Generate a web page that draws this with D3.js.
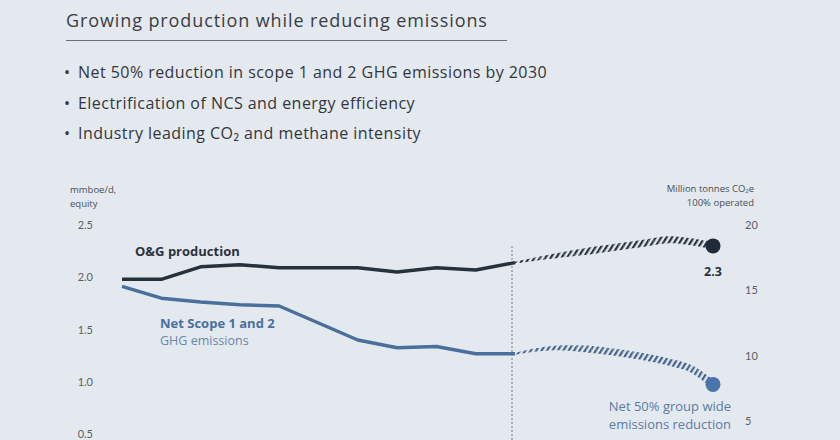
<!DOCTYPE html>
<html>
<head>
<meta charset="utf-8">
<script src="https://cdn.jsdelivr.net/npm/d3@7"></script>
<style>
  body { margin: 0; background: #e3e9ef; }
  svg { display: block; font-family: "Open Sans", Lato, sans-serif; }
</style>
</head>
<body>
<div id="chart"></div>
<script>
// data
var histYears = [2011, 2012, 2013, 2014, 2015, 2016, 2017, 2018, 2019, 2020, 2021];
var production = [1.98, 1.98, 2.1, 2.12, 2.09, 2.09, 2.09, 2.05, 2.09, 2.07, 2.14]; // mmboe/d
var emissions = [15.3, 14.4, 14.1, 13.9, 13.8, 12.5, 11.2, 10.6, 10.7, 10.15, 10.15]; // Mt CO2e

var fcYears = [2021, 2023, 2025, 2027, 2028, 2029, 2030];
var productionFc = [2.14, 2.21, 2.27, 2.33, 2.36, 2.34, 2.3];
var emissionsFcYears = [2021, 2022, 2023, 2026, 2028, 2029, 2030];
var emissionsFc = [10.15, 10.45, 10.6, 10.15, 9.5, 9.0, 7.8];

var leftTicks = [0.5, 1.0, 1.5, 2.0, 2.5];
var rightTicks = [5, 10, 15, 20];

var bullets = [
  "Net 50% reduction in scope 1 and 2 GHG emissions by 2030",
  "Electrification of NCS and energy efficiency",
  "Industry leading CO\u2082 and methane intensity",
];

var width = 840,
  height = 440;

var svg = d3
  .select("#chart")
  .append("svg")
  .attr("width", width)
  .attr("height", height);

svg.append("rect").attr("width", width).attr("height", height).attr("fill", "#e3e9ef");

// hatch patterns for the forecast part
var defs = svg.append("defs");
function hatch(id, color) {
  var p = defs
    .append("pattern")
    .attr("id", id)
    .attr("patternUnits", "userSpaceOnUse")
    .attr("width", 4.6)
    .attr("height", 10)
    .attr("patternTransform", "rotate(32)");
  p.append("rect").attr("width", 2.2).attr("height", 10).attr("fill", color);
}
hatch("hatchDark", "#27313c");
hatch("hatchBlue", "#40608a");

// title + bullets
svg
  .append("text")
  .attr("x", 66)
  .attr("y", 27)
  .attr("font-size", 18)
  .attr("letter-spacing", 0.9)
  .attr("fill", "#3a3d42")
  .text("Growing production while reducing emissions");
svg
  .append("line")
  .attr("x1", 66)
  .attr("x2", 507)
  .attr("y1", 40.5)
  .attr("y2", 40.5)
  .attr("stroke", "#6b6f75")
  .attr("stroke-width", 1);

var bl = svg
  .selectAll(".bullet")
  .data(bullets)
  .enter()
  .append("g")
  .attr("class", "bullet")
  .attr("transform", (d, i) => "translate(0," + (78 + i * 30.5) + ")")
  .attr("font-size", 16)
  .attr("fill", "#33363b");
bl.append("text").attr("x", 64).text("\u2022");
bl.append("text")
  .attr("x", 78)
  .attr("letter-spacing", 0.45)
  .text((d) => d);

// scales
var x = d3.scaleLinear().domain([2011, 2021, 2030]).range([122, 515, 713]);
var yL = d3.scaleLinear().domain([0.5, 2.5]).range([434, 225]);
var yR = d3.scaleLinear().domain([5, 20]).range([421, 225]);

// axes
var axL = svg
  .append("g")
  .attr("transform", "translate(93,0)")
  .call(d3.axisLeft(yL).tickValues(leftTicks).tickFormat(d3.format(".1f")).tickSize(0).tickPadding(0));
var axR = svg
  .append("g")
  .attr("transform", "translate(745,0)")
  .call(d3.axisRight(yR).tickValues(rightTicks).tickSize(0).tickPadding(0));
[axL, axR].forEach(function (a) {
  a.select(".domain").remove();
  a.selectAll("text")
    .attr("font-family", "Lato, sans-serif")
    .attr("font-size", 11)
    .attr("fill", "#5a5f66");
});

// axis titles
var axTitle = svg.append("g").attr("font-size", 9.5).attr("fill", "#4a4e54");
axTitle.append("text").attr("x", 70).attr("y", 193).text("mmboe/d,");
axTitle.append("text").attr("x", 70).attr("y", 207).text("equity");
axTitle
  .append("text")
  .attr("x", 754)
  .attr("y", 192)
  .attr("text-anchor", "end")
  .text("Million tonnes CO\u2082e");
axTitle
  .append("text")
  .attr("x", 754)
  .attr("y", 206)
  .attr("text-anchor", "end")
  .text("100% operated");

// divider between history and forecast
svg
  .append("line")
  .attr("x1", x(2021) - 3)
  .attr("x2", x(2021) - 3)
  .attr("y1", 246)
  .attr("y2", height)
  .attr("stroke", "#9aa0a8")
  .attr("stroke-width", 1.5)
  .attr("stroke-dasharray", "2,2");

// historical lines
var histLine = function (yScale, vals) {
  return d3
    .line()
    .x((d, i) => x(histYears[i]))
    .y((d) => yScale(d))(vals);
};
svg
  .append("path")
  .attr("d", histLine(yR, emissions))
  .attr("fill", "none")
  .attr("stroke", "#4a6f9c")
  .attr("stroke-width", 3.5)
  .attr("stroke-linejoin", "round");
svg
  .append("path")
  .attr("d", histLine(yL, production))
  .attr("fill", "none")
  .attr("stroke", "#27313c")
  .attr("stroke-width", 3.5)
  .attr("stroke-linejoin", "round");

// forecast: hatched stroke that gets thicker along the way
function forecast(years, vals, yScale, pat) {
  var d = d3
    .line()
    .curve(d3.curveMonotoneX)
    .x((v, i) => x(years[i]))
    .y((v) => yScale(v))(vals);
  var tmp = svg.append("path").attr("d", d).attr("fill", "none");
  var len = tmp.node().getTotalLength();
  var n = 40;
  var g = svg.append("g");
  for (var k = 0; k < n; k++) {
    var a = tmp.node().getPointAtLength((len * k) / n);
    var b = tmp.node().getPointAtLength((len * (k + 1)) / n);
    var w = Math.min(7, 2 + (k / n) * 14);
    g.append("line")
      .attr("x1", a.x)
      .attr("y1", a.y)
      .attr("x2", b.x)
      .attr("y2", b.y)
      .attr("stroke", "url(#" + pat + ")")
      .attr("stroke-width", w);
  }
  tmp.remove();
}
forecast(fcYears, productionFc, yL, "hatchDark");
forecast(emissionsFcYears, emissionsFc, yR, "hatchBlue");

// end points
svg
  .append("circle")
  .attr("cx", x(2030))
  .attr("cy", yL(productionFc[productionFc.length - 1]))
  .attr("r", 7.5)
  .attr("fill", "#1f2b38");
svg
  .append("circle")
  .attr("cx", x(2030))
  .attr("cy", yR(emissionsFc[emissionsFc.length - 1]))
  .attr("r", 7.5)
  .attr("fill", "#4a74ac");

// labels
svg
  .append("text")
  .attr("x", x(2030))
  .attr("y", 276)
  .attr("text-anchor", "middle")
  .attr("font-size", 12.5)
  .attr("font-weight", "bold")
  .attr("fill", "#27313c")
  .text("2.3");
svg
  .append("text")
  .attr("x", 135)
  .attr("y", 256)
  .attr("font-size", 13)
  .attr("font-weight", "bold")
  .attr("fill", "#2a323c")
  .text("O&G production");
svg
  .append("text")
  .attr("x", 160)
  .attr("y", 328)
  .attr("font-size", 13)
  .attr("font-weight", "bold")
  .attr("fill", "#4a6f9c")
  .text("Net Scope 1 and 2");
svg
  .append("text")
  .attr("x", 160)
  .attr("y", 345)
  .attr("font-size", 12.5)
  .attr("fill", "#6a86aa")
  .text("GHG emissions");
svg
  .append("text")
  .attr("x", 731)
  .attr("y", 411)
  .attr("text-anchor", "end")
  .attr("font-size", 13)
  .attr("fill", "#5c7ba2")
  .text("Net 50% group wide");
svg
  .append("text")
  .attr("x", 731)
  .attr("y", 429)
  .attr("text-anchor", "end")
  .attr("font-size", 13)
  .attr("fill", "#5c7ba2")
  .text("emissions reduction");
</script>
</body>
</html>
